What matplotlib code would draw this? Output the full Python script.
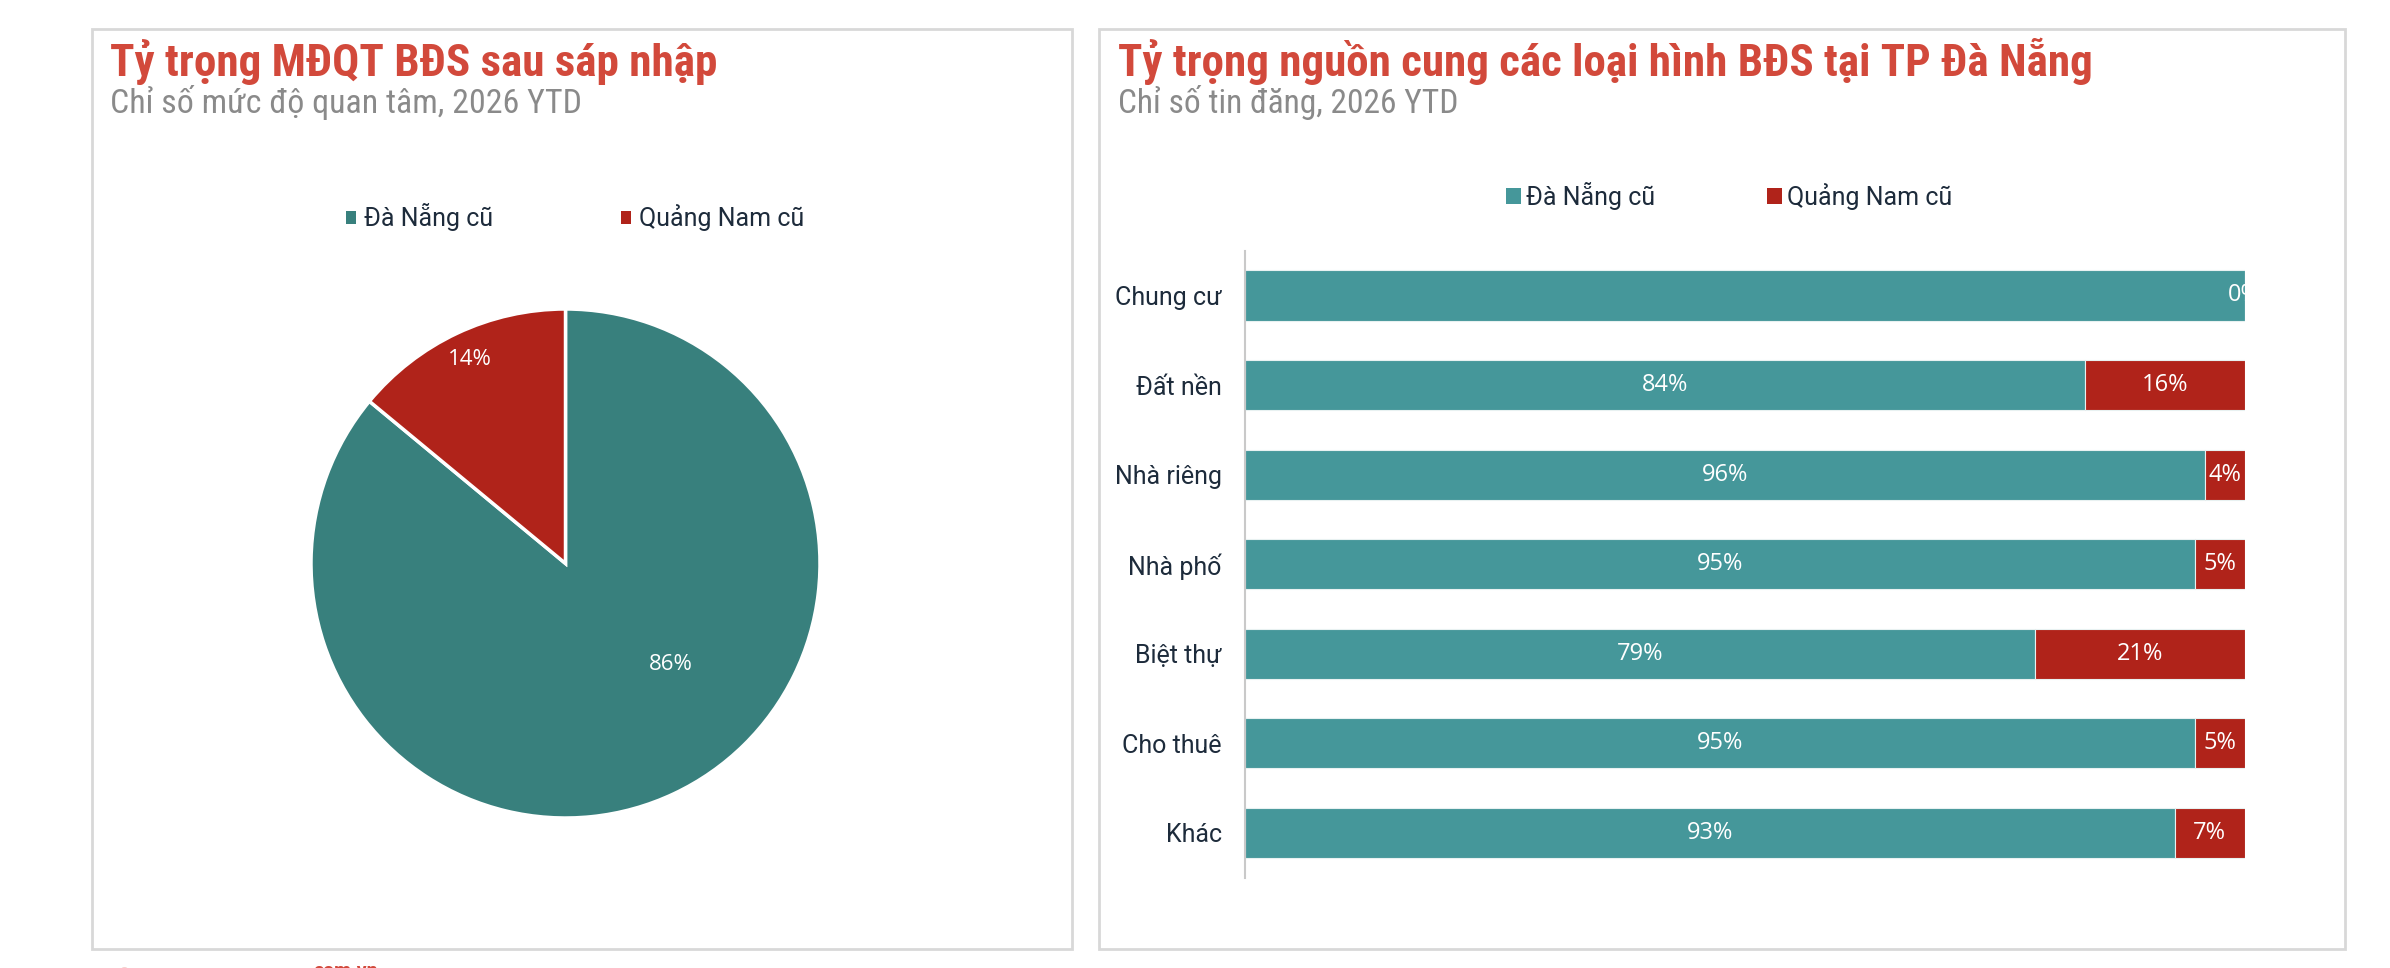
import matplotlib
matplotlib.use('Agg')
import matplotlib.pyplot as plt
from matplotlib import font_manager
from matplotlib.patches import Rectangle, Circle
import numpy as np

# --- data ---
pie_labels = ['Đà Nẵng cũ', 'Quảng Nam cũ']
pie_values = [86, 14]

categories = ['Chung cư', 'Đất nền', 'Nhà riêng', 'Nhà phố', 'Biệt thự', 'Cho thuê', 'Khác']
da_nang = [100, 84, 96, 95, 79, 95, 93]
quang_nam = [0, 16, 4, 5, 21, 5, 7]
da_nang_text = ['', '84%', '96%', '95%', '79%', '95%', '93%']
quang_nam_text = ['0%', '16%', '4%', '5%', '21%', '5%', '7%']

W, H = 2390, 968
TEAL_PIE = '#38807d'
TEAL = '#45979a'
RED = '#b0231a'
TITLE_RED = '#d2493b'
NAVY = '#1d2b3b'


def pick(names):
    have = {f.name for f in font_manager.fontManager.ttflist}
    for n in names:
        if n in have:
            return n
    return 'DejaVu Sans'


cond = pick(['Roboto Condensed', 'Liberation Sans Narrow', 'Roboto'])
body = pick(['Roboto', 'DejaVu Sans'])
num = pick(['Open Sans', 'Noto Sans', 'DejaVu Sans'])


def box(x, y, w, h):
    # pixel box (top-left origin) -> figure fraction
    return [x / W, 1 - (y + h) / H, w / W, h / H]


fig = plt.figure(figsize=(W / 100, H / 100), dpi=100)
fig.patch.set_facecolor('white')

# panels (behind the axes)
for x0, x1 in [(92, 1072), (1099, 2345)]:
    fig.patches.append(Rectangle((x0 / W, 1 - 949 / H), (x1 - x0) / W, (949 - 29) / H,
                                 transform=fig.transFigure, facecolor='white',
                                 edgecolor='#d8d8d8', linewidth=2, zorder=-5))

renderer = fig.canvas.get_renderer()


def fit(t, target_w):
    w = t.get_window_extent(renderer).width
    t.set_fontsize(t.get_fontsize() * target_w / w)


# titles
t = fig.text(110 / W, 1 - 76 / H, 'Tỷ trọng MĐQT BĐS sau sáp nhập', family=[cond, 'DejaVu Sans'],
             fontweight='bold', fontsize=28, color=TITLE_RED, va='baseline')
fit(t, 608)
t = fig.text(110 / W, 1 - 113 / H, 'Chỉ số mức độ quan tâm, 2026 YTD', family=[cond, 'DejaVu Sans'],
             fontsize=21, color='#8a8a8a', va='baseline')
fit(t, 471)
t = fig.text(1118 / W, 1 - 76 / H, 'Tỷ trọng nguồn cung các loại hình BĐS tại TP Đà Nẵng',
             family=[cond, 'DejaVu Sans'], fontweight='bold', fontsize=28, color=TITLE_RED, va='baseline')
fit(t, 973)
t = fig.text(1118 / W, 1 - 113 / H, 'Chỉ số tin đăng, 2026 YTD', family=[cond, 'DejaVu Sans'],
             fontsize=21, color='#8a8a8a', va='baseline')
fit(t, 341)

# --- pie ---
cx, cy, r = 565.5, 563.5, 254.5
axp = fig.add_axes(box(cx - r, cy - r, 2 * r, 2 * r))
wedges, _ = axp.pie(pie_values, colors=[TEAL_PIE, RED], startangle=90, counterclock=False,
                    wedgeprops=dict(edgecolor='white', linewidth=2.5))
axp.set_xlim(-1, 1)
axp.set_ylim(-1, 1)
axp.set_aspect('equal')
axp.axis('off')

label_pos = [(-43.6, 0.573), (115.1, 0.883)]
for v, (ang, d) in zip(pie_values, label_pos):
    a = np.deg2rad(ang)
    axp.text(d * np.cos(a), d * np.sin(a), f'{v}%', ha='center', va='center',
             color='white', fontsize=16, family=num)

leg = axp.legend(wedges, pie_labels, loc='center', bbox_to_anchor=(575 / W, 1 - 217 / H),
                 bbox_transform=fig.transFigure, ncol=2, frameon=False,
                 handlelength=0.42, handleheight=0.42, handletextpad=0.32, columnspacing=5.1,
                 prop={'family': body, 'size': 18})
for tx in leg.get_texts():
    tx.set_color(NAVY)
for p in leg.get_patches():
    p.set_edgecolor('none')

# --- stacked bars ---
axb = fig.add_axes(box(1245.4, 250.7, 2244.5 - 1245.4, 627))
y = np.arange(len(categories))
b1 = axb.barh(y, da_nang, height=0.56, color=TEAL, edgecolor='#e8f1f1', linewidth=0.8,
              label='Đà Nẵng cũ')
b2 = axb.barh(y, quang_nam, left=da_nang, height=0.56, color=RED, edgecolor='#e8f1f1',
              linewidth=0.8, label='Quảng Nam cũ')
axb.set_xlim(0, 100)
axb.set_ylim(6.5, -0.5)
for s in ['top', 'right', 'bottom']:
    axb.spines[s].set_visible(False)
axb.spines['left'].set_color('#c9c9c9')
axb.spines['left'].set_linewidth(1.5)
axb.set_xticks([])
axb.set_yticks(y)
axb.set_yticklabels(categories, family=body, fontsize=18, color=NAVY)
axb.tick_params(axis='y', length=0, pad=17)

axb.bar_label(b1, labels=da_nang_text, label_type='center', color='white', fontsize=17,
              family=num, clip_on=True)
axb.bar_label(b2, labels=quang_nam_text, label_type='center', color='white', fontsize=17,
              family=num, clip_on=True)

leg2 = axb.legend(loc='center', bbox_to_anchor=(1729 / W, 1 - 196 / H), bbox_transform=fig.transFigure,
                  ncol=2, frameon=False, handlelength=0.6, handleheight=0.6, handletextpad=0.2,
                  columnspacing=4.5, prop={'family': body, 'size': 18})
for tx in leg2.get_texts():
    tx.set_color(NAVY)
for p in leg2.get_patches():
    p.set_edgecolor('none')

# footer (cut off at the bottom edge)
fig.patches.append(Circle((124.5 / W, 1 - 971 / H), 8 / W, transform=fig.transFigure,
                          facecolor='#d2493b', edgecolor='none'))
fig.text(313 / W, 1 - 962 / H, 'com.vn', family=[body, 'DejaVu Sans'], fontweight='bold',
         fontsize=14, color=TITLE_RED, va='top')

fig.savefig('out.png', dpi=100)
